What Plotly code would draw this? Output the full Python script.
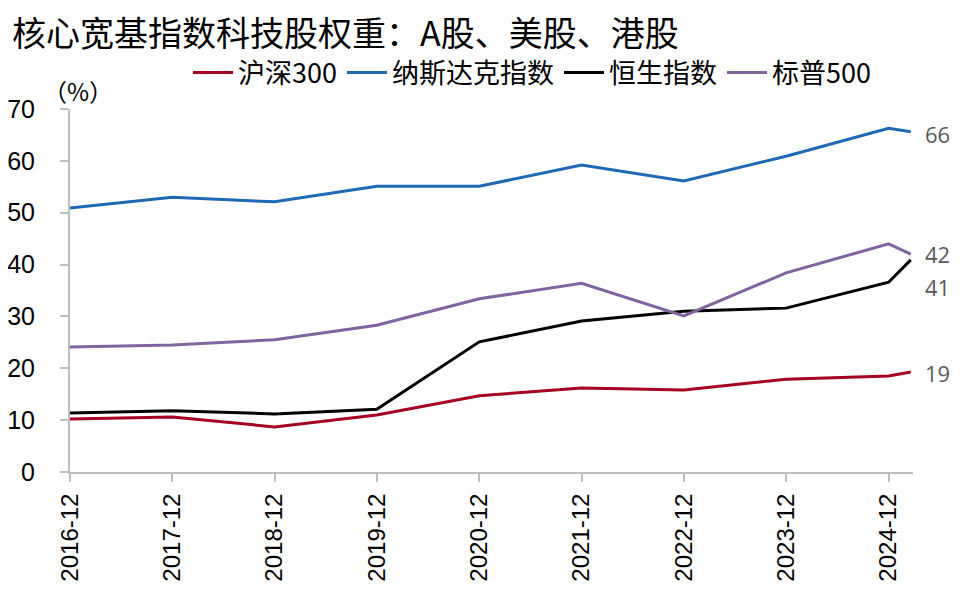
import plotly.graph_objects as go

# 数据（读取自原图，单位 %）
fechas = ["2016-12-31", "2017-12-31", "2018-12-31", "2019-12-31", "2020-12-31",
          "2021-12-31", "2022-12-31", "2023-12-31", "2024-12-31", "2025-03-20"]
tick_vals = fechas[:-1]
tick_text = ["2016-12", "2017-12", "2018-12", "2019-12", "2020-12",
             "2021-12", "2022-12", "2023-12", "2024-12"]

hs300 = [10.2, 10.6, 8.7, 11.0, 14.7, 16.2, 15.8, 17.9, 18.5, 19.3]
nasdaq = [50.9, 53.0, 52.1, 55.1, 55.1, 59.2, 56.1, 60.9, 66.3, 65.6]
hsi = [11.4, 11.8, 11.2, 12.1, 25.1, 29.1, 31.0, 31.6, 36.6, 40.9]
sp500 = [24.1, 24.5, 25.5, 28.3, 33.4, 36.4, 30.1, 38.4, 44.0, 42.0]

series = [
    ("沪深300", hs300, "#A50021"),
    ("纳斯达克指数", nasdaq, "#1F68B4"),
    ("恒生指数", hsi, "#000000"),
    ("标普500", sp500, "#8064A2"),
]

# 末端标签：文字与放置高度
end_labels = [("66", 65.2), ("42", 42.0), ("41", 35.7), ("19", 19.1)]

FONT = "Liberation Sans, Noto Sans CJK SC, sans-serif"
FONT_CJK = "Noto Sans CJK SC, Liberation Sans, sans-serif"

# la página añade 8px de margen al body: la figura se reduce 16px
W, H = 944, 579

fig = go.Figure()
for nombre, valores, color in series:
    fig.add_trace(go.Scatter(x=fechas, y=valores, name=nombre, mode="lines",
                             line=dict(color=color, width=3)))

for texto, yv in end_labels:
    fig.add_annotation(x=fechas[-1], y=yv, text=texto, showarrow=False,
                       xanchor="left", xshift=12,
                       font=dict(family="Open Sans, Liberation Sans, sans-serif", size=22, color="#595959"))

fig.add_annotation(xref="paper", yref="paper", x=0, y=1, xshift=8, yshift=19,
                   text="（%）", showarrow=False, xanchor="center", yanchor="middle",
                   font=dict(family=FONT_CJK, size=24, color="#000000"))

fig.update_layout(
    width=W, height=H,
    paper_bgcolor="white", plot_bgcolor="white",
    margin=dict(l=62, r=39, t=101, b=115),
    title=dict(text="核心宽基指数科技股权重：A股、美股、港股",
               x=4 / W, xanchor="left", y=1 - 26 / H, yanchor="middle",
               font=dict(family=FONT_CJK, size=34, color="#000000")),
    legend=dict(orientation="h", xref="container", yref="container",
                x=524 / W, xanchor="center", y=1 - 65 / H, yanchor="middle",
                font=dict(family=FONT_CJK, size=27, color="#000000"),
                itemwidth=40, bgcolor="rgba(0,0,0,0)"),
    showlegend=True,
)

fig.update_xaxes(
    type="date", range=["2016-12-31", "2025-03-28"],
    tickmode="array", tickvals=tick_vals, ticktext=tick_text, tickangle=-90,
    showgrid=False, zeroline=False, automargin=False,
    showline=True, linecolor="#BFBFBF", linewidth=2,
    ticks="outside", ticklen=8, tickcolor="#BFBFBF", tickwidth=2,
    ticklabelstandoff=2,
    tickfont=dict(family=FONT, size=24, color="#000000"),
)
fig.update_yaxes(
    range=[0, 70], dtick=10, showgrid=False, zeroline=False, automargin=False,
    showline=True, linecolor="#BFBFBF", linewidth=2,
    ticks="outside", ticklen=8, tickcolor="#BFBFBF", tickwidth=2,
    ticklabelstandoff=20,
    tickfont=dict(family=FONT, size=25, color="#000000"),
)

fig.write_html("out.html")
